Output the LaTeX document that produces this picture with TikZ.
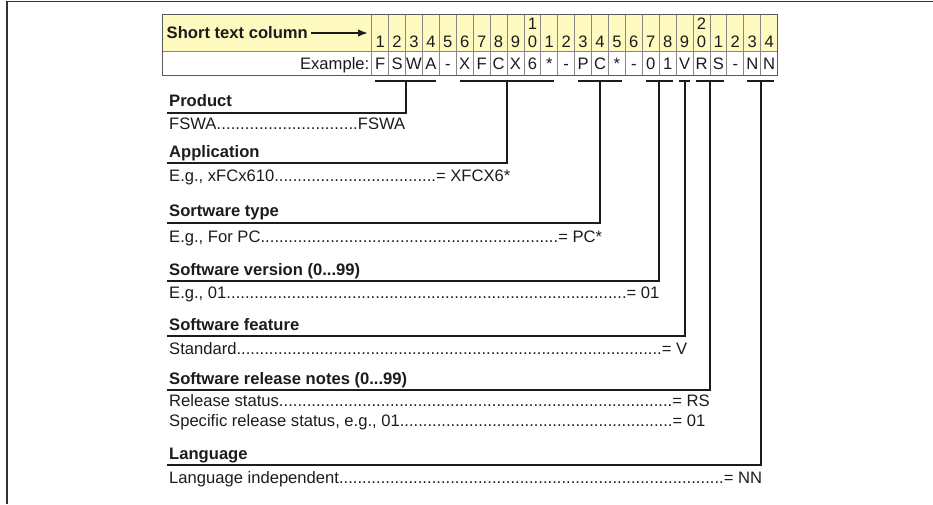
\documentclass[tikz,border=0pt]{standalone}
\usepackage{fontspec}
\setmainfont{Liberation Sans}
\usetikzlibrary{arrows.meta}
\definecolor{hdr}{RGB}{255,250,192}
\definecolor{gridc}{RGB}{135,135,135}
\definecolor{tbord}{RGB}{90,90,90}
\definecolor{ink}{RGB}{28,28,28}
\definecolor{framec}{RGB}{50,50,50}
\newcommand\ldline[3]{\hbox to #1{#2\xleaders\hbox{.}\hfill #3}}
\begin{document}
\begin{tikzpicture}[x=1pt,y=-1pt,
  every node/.style={inner sep=0pt, font=\fontsize{16.6}{19.9}\selectfont, text=ink},
  num/.style={anchor=base},
  hd/.style={anchor=base west, font=\fontsize{16.6}{19.9}\selectfont\bfseries},
  ln/.style={anchor=base west},
  brk/.style={draw=ink, line width=2pt},
  gridl/.style={draw=gridc, line width=0.8pt}]
\useasboundingbox (0,0) rectangle (933,504);
% frame
\draw[line width=1.4pt, draw=framec] (933,1.5) -- (7,1.5) -- (7,504);
% table
\fill[hdr] (162,14) rectangle (777.6,51.7);
\foreach \i in {0,...,24} \draw[gridl] ({371.7+\i*16.9125},14) -- ++(0,61);
\draw[gridl] (162,51.7) -- (777.6,51.7);
\draw[draw=tbord, line width=1pt] (162,14) rectangle (777.6,75);
\node[hd] (short) at (166.5,38.5) {Short text column};
\coordinate (arrs) at ([xshift=3pt]short.east);
\coordinate (arre) at (368,33);
\draw[-{Latex[length=10pt,width=7.5pt]}, line width=1.6pt, draw=ink] (arrs |- arre) -- (arre);
\foreach \d [count=\i] in {1,2,3,4,5,6,7,8,9,0,1,2,3,4,5,6,7,8,9,0,1,2,3,4}
  \node[num] (n\i) at ({371.7+(\i-0.5)*16.9125},47.5) {\d};
\node[num] (n10t) at ({371.7+9.5*16.9125},29.5) {1};
\node[num] (n20t) at ({371.7+19.5*16.9125},29.5) {2};
\node[anchor=base east] (ex) at (369.5,69) {Example:};
\foreach \c [count=\i] in {F,S,W,A,-,X,F,C,X,6,*,-,P,C,*,-,0,1,V,R,S,-,N,N}
  \node[num] (e\i) at ({371.7+(\i-0.5)*16.9125},69) {\c};
% brackets
\foreach \a/\b/\n in {1/4/p, 6/11/a, 13/15/s, 17/18/v, 19/19/f, 20/21/r, 23/24/l}{
  \coordinate (bl\n) at ({371.7+(\a-1)*16.9125+3.3},80.7);
  \coordinate (br\n) at ({371.7+\b*16.9125-3.3},80.7);
  \coordinate (st\n) at ({371.7+(\a-1+\b)/2*16.9125},80.7);
  \draw[brk] (bl\n) -- (br\n);
}
% Product
\node[hd] (hp) at (169,106.5) {Product};
\coordinate (up) at (167,112.5);
\draw[brk] (stp) -- (stp |- up) -- (up);
\node[ln] (tp) at (169,129.3) {\ldline{236pt}{FSWA}{FSWA}};
% Application
\node[hd] (ha) at (169,157) {Application};
\coordinate (ua) at (167,163);
\draw[brk] (sta) -- (sta |- ua) -- (ua);
\node[ln] (ta) at (169,181) {\ldline{341pt}{E.g., xFCx610}{= XFCX6*}};
% Software type
\node[hd] (hs) at (169,216) {Sortware type};
\coordinate (us) at (167,222.5);
\draw[brk] (sts) -- (sts |- us) -- (us);
\node[ln] (ts) at (169,242.5) {\ldline{432.7pt}{E.g., For PC}{= PC*}};
% Software version
\node[hd] (hv) at (169,275) {Software version (0...99)};
\coordinate (uv) at (167,281);
\draw[brk] (stv) -- (stv |- uv) -- (uv);
\node[ln] (tv) at (169,298.5) {\ldline{490pt}{E.g., 01}{= 01}};
% Software feature
\node[hd] (hf) at (169,330) {Software feature};
\coordinate (uf) at (167,336);
\draw[brk] (stf) -- (stf |- uf) -- (uf);
\node[ln] (tf) at (169,354) {\ldline{517.7pt}{Standard}{= V}};
% Release notes
\node[hd] (hr) at (169,384) {Software release notes (0...99)};
\coordinate (ur) at (167,389.5);
\draw[brk] (str) -- (str |- ur) -- (ur);
\node[ln] (tr1) at (169,406) {\ldline{540.3pt}{Release status}{= RS}};
\node[ln] (tr2) at (169,426) {\ldline{536pt}{Specific release status, e.g., 01}{= 01}};
% Language
\node[hd] (hl) at (169,459) {Language};
\coordinate (ul) at (167,465);
\draw[brk] (stl) -- (stl |- ul) -- (ul);
\node[ln] (tl) at (169,483) {\ldline{592.7pt}{Language independent}{= NN}};
\end{tikzpicture}
\end{document}
